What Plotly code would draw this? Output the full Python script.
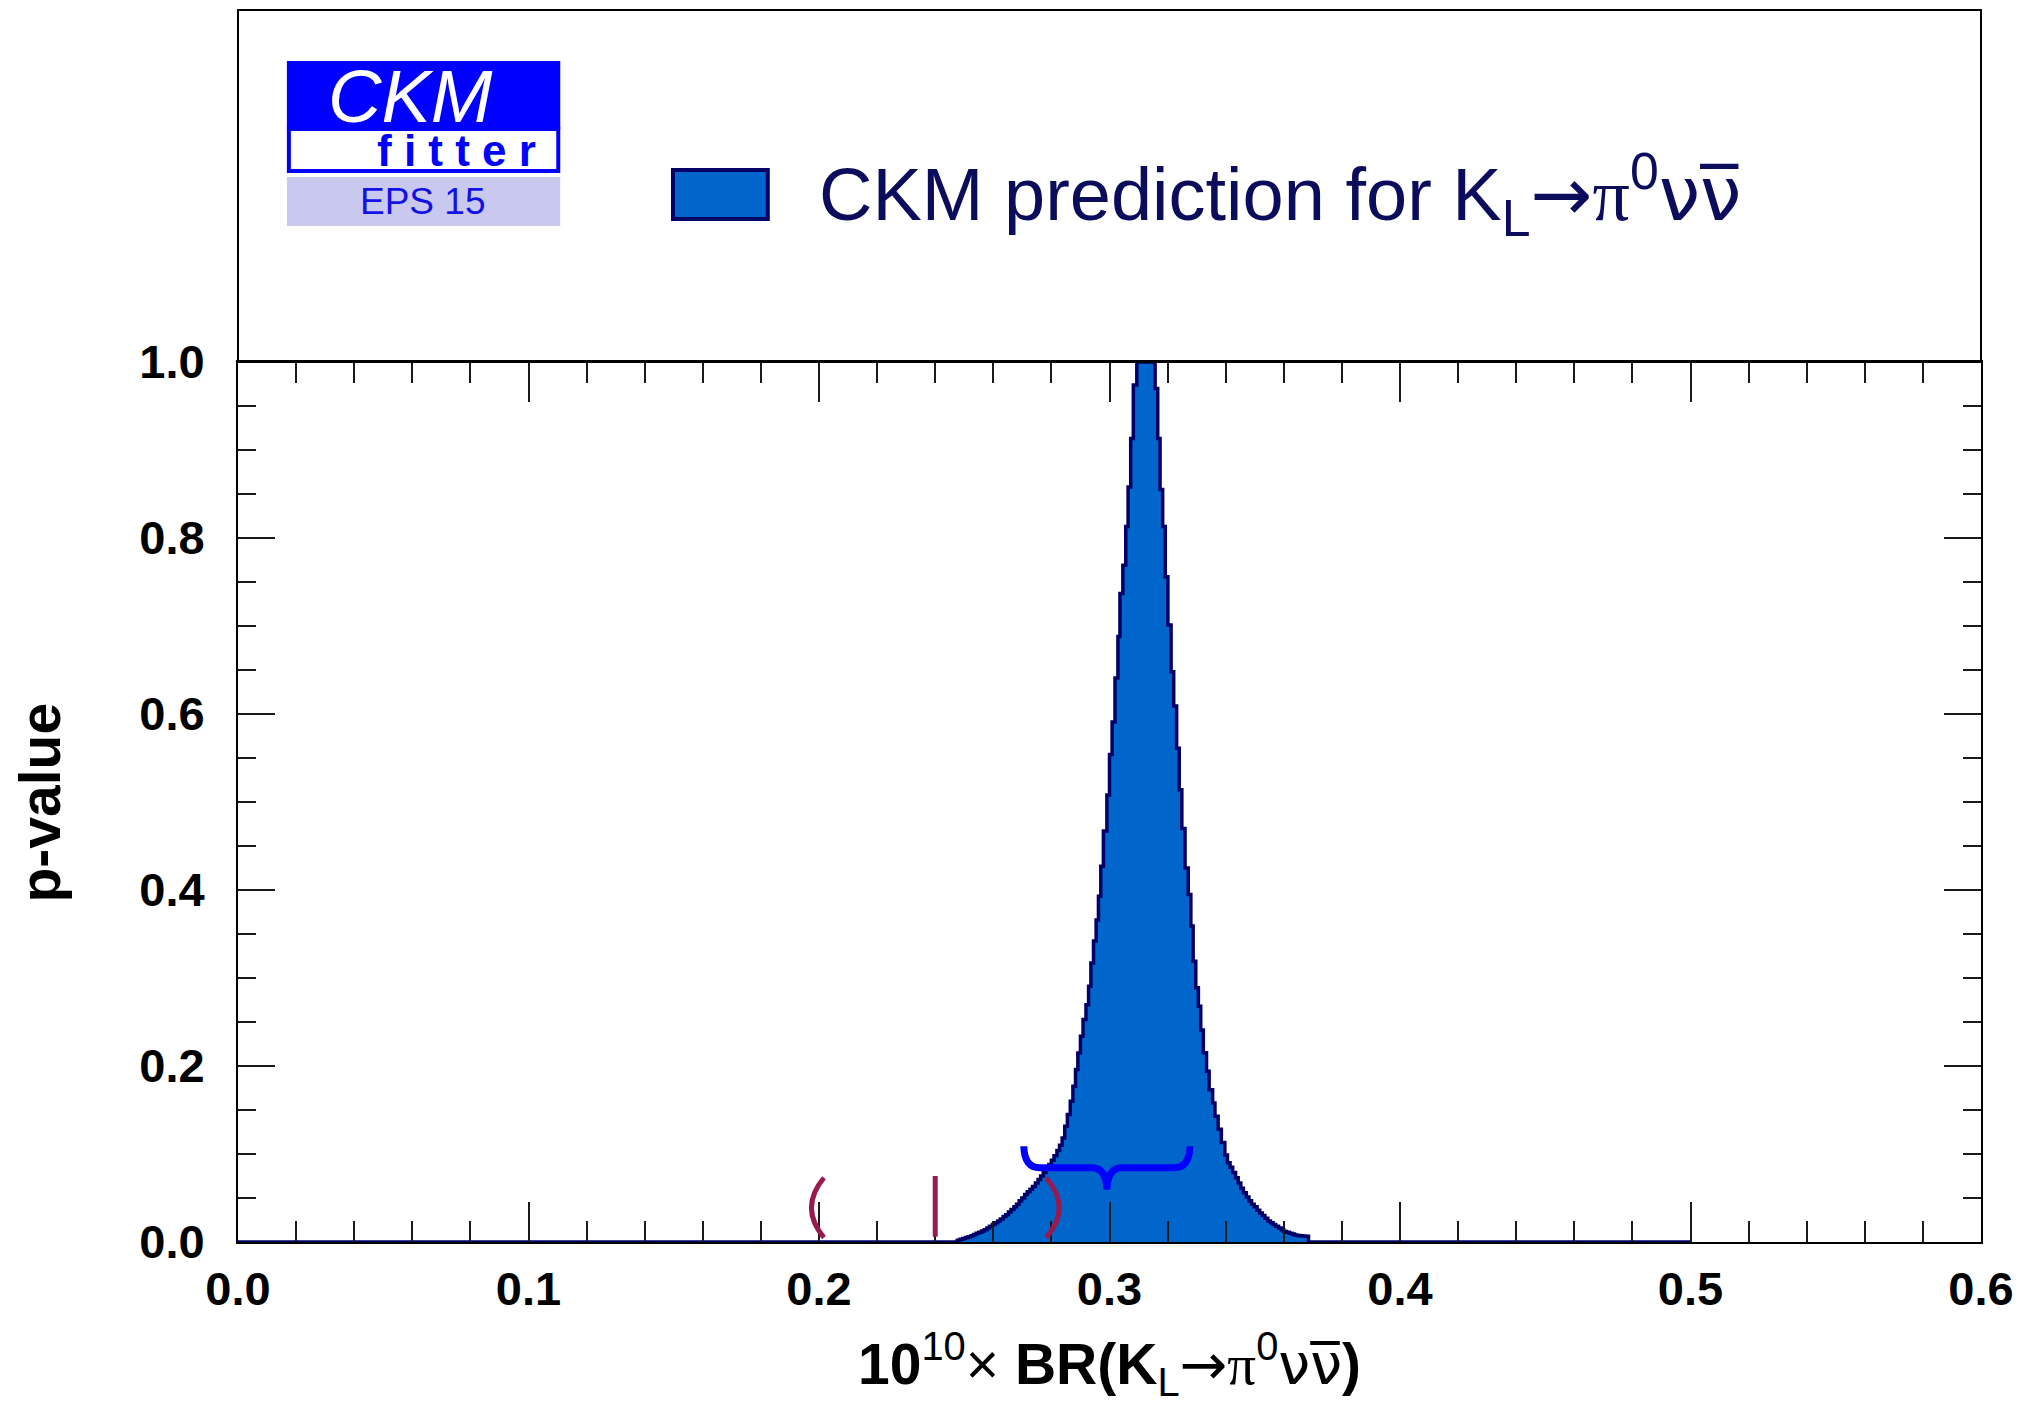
import plotly.graph_objects as go

# ---- p-value profile of 10^10 x BR(K_L -> pi0 nu nubar), binned ----
# left edge of each bin and the p-value of that bin
bin_lo = [0.0, 0.2476, 0.2486, 0.2495, 0.2504, 0.2513, 0.2523, 0.2532, 0.2541, 0.2550,
          0.2560, 0.2569, 0.2578, 0.2587, 0.2597, 0.2606, 0.2615, 0.2624, 0.2634, 0.2643,
          0.2652, 0.2661, 0.2671, 0.2680, 0.2689, 0.2698, 0.2708, 0.2717, 0.2726, 0.2735,
          0.2745, 0.2754, 0.2763, 0.2772, 0.2782, 0.2791, 0.2800, 0.2809, 0.2819, 0.2828,
          0.2837, 0.2846, 0.2855, 0.2865, 0.2874, 0.2883, 0.2891, 0.2900, 0.2909, 0.2919,
          0.2928, 0.2936, 0.2945, 0.2954, 0.2962, 0.2970, 0.2979, 0.2991, 0.3000, 0.3009,
          0.3019, 0.3029, 0.3036, 0.3046, 0.3056, 0.3064, 0.3073, 0.3082, 0.3094,
          0.3157, 0.3166, 0.3174, 0.3183, 0.3192, 0.3201, 0.3212, 0.3221, 0.3231, 0.3240,
          0.3249, 0.3260, 0.3271, 0.3280, 0.3288, 0.3297, 0.3306, 0.3314, 0.3323, 0.3334,
          0.3343, 0.3355, 0.3363, 0.3374, 0.3385, 0.3397, 0.3406, 0.3415, 0.3424, 0.3434,
          0.3443, 0.3452, 0.3461, 0.3471, 0.3480, 0.3489, 0.3498, 0.3508, 0.3517, 0.3526,
          0.3535, 0.3545, 0.3554, 0.3563, 0.3572, 0.3582, 0.3591, 0.3600, 0.3609, 0.3619,
          0.3628, 0.3637, 0.3646, 0.3656, 0.3665, 0.3674, 0.3685]
p_value = [0.0, 0.002, 0.003, 0.004, 0.005, 0.006, 0.007, 0.0085, 0.010, 0.0112,
           0.0125, 0.014, 0.016, 0.018, 0.020, 0.022, 0.024, 0.026, 0.029, 0.031,
           0.034, 0.037, 0.040, 0.043, 0.047, 0.050, 0.054, 0.057, 0.060, 0.063,
           0.067, 0.071, 0.075, 0.079, 0.083, 0.088, 0.093, 0.098, 0.104, 0.110,
           0.1183, 0.1315, 0.1448, 0.160, 0.177, 0.1959, 0.2149, 0.2337, 0.2527, 0.2697,
           0.2905, 0.317, 0.342, 0.366, 0.393, 0.427, 0.467, 0.508, 0.554, 0.591,
           0.641, 0.688, 0.737, 0.769, 0.813, 0.858, 0.913, 0.974, 1.0,
           0.970, 0.913, 0.855, 0.813, 0.756, 0.701, 0.648, 0.609, 0.561, 0.514,
           0.470, 0.425, 0.395, 0.359, 0.319, 0.289, 0.268, 0.241, 0.215, 0.194,
           0.173, 0.158, 0.143, 0.128, 0.113, 0.099, 0.090, 0.085, 0.079, 0.073,
           0.067, 0.061, 0.056, 0.051, 0.047, 0.043, 0.040, 0.036, 0.033, 0.030,
           0.027, 0.024, 0.022, 0.020, 0.018, 0.016, 0.014, 0.012, 0.011, 0.010,
           0.009, 0.008, 0.0075, 0.007, 0.0068, 0.0065, 0.0]
hist_end = 0.5          # upper edge of the histogram range

if len(bin_lo) != len(p_value):
    raise ValueError("bin edges and p-values differ in length")

x_ticks = [0.0, 0.1, 0.2, 0.3, 0.4, 0.5, 0.6]
y_ticks = [0.0, 0.2, 0.4, 0.6, 0.8, 1.0]

# parenthesised interval and central value, brace over the prediction
interval_lo, interval_mid, interval_hi = 0.2017, 0.2400, 0.2782
brace_lo, brace_mid, brace_hi = 0.2705, 0.2991, 0.3277

FILL = "#0066cc"
EDGE = "#000066"
MAROON = "#981b50"
LOGO_BLUE = "#0000ff"

W, H = 2026, 1416
L, R, T, B = 238, 1985, 362, 1242          # plot frame in pixels


def px(X):
    return (X - L) / (R - L)


def py(Y):
    return (B - Y) / (B - T)


fig = go.Figure()
fig.add_trace(go.Scatter(
    x=bin_lo + [hist_end], y=p_value + [0.0],
    mode="lines", line=dict(shape="hv", color=EDGE, width=3.5),
    fill="tozeroy", fillcolor=FILL, hoverinfo="skip", showlegend=False))

axis_common = dict(showline=True, linewidth=2, linecolor="black", mirror="ticks",
                   ticks="inside", tickwidth=2, tickcolor="#1a1a1a",
                   showgrid=False, zeroline=False, tickformat=".1f",
                   tickfont=dict(family="Liberation Sans", size=47, color="black",
                                 weight="bold"))

fig.update_xaxes(range=[0, 0.6], tickvals=x_ticks, ticklen=40,
                 minor=dict(dtick=0.02, ticklen=21, tickwidth=2, ticks="inside",
                            tickcolor="#1a1a1a"),
                 ticklabelstandoff=5, **axis_common)
fig.update_yaxes(range=[0, 1], tickvals=y_ticks, ticklen=37,
                 minor=dict(dtick=0.05, ticklen=18, tickwidth=2, ticks="inside",
                            tickcolor="#1a1a1a"),
                 ticklabelstandoff=22, **axis_common)

shapes = []
# upper box of the frame holding logo and legend
shapes.append(dict(type="rect", xref="paper", yref="paper",
                   x0=0, x1=1, y0=1, y1=py(10),
                   line=dict(color="black", width=2), fillcolor="rgba(0,0,0,0)"))
# logo blocks
shapes.append(dict(type="rect", xref="paper", yref="paper",
                   x0=px(287), x1=px(561), y0=py(129), y1=py(61),
                   line=dict(width=0), fillcolor=LOGO_BLUE))
shapes.append(dict(type="rect", xref="paper", yref="paper",
                   x0=px(289), x1=px(559), y0=py(171), y1=py(129),
                   line=dict(color=LOGO_BLUE, width=4), fillcolor="white"))
shapes.append(dict(type="rect", xref="paper", yref="paper",
                   x0=px(287), x1=px(561), y0=py(226), y1=py(177),
                   line=dict(width=0), fillcolor="#c9c9f0"))
# legend swatch
shapes.append(dict(type="rect", xref="paper", yref="paper",
                   x0=px(674), x1=px(769), y0=py(219), y1=py(170),
                   line=dict(color=EDGE, width=4), fillcolor=FILL))

# interval markers: "(", "|", ")"
p_top, p_bot = 0.073, 0.005
shapes.append(dict(type="path", xref="x", yref="y",
                   path=f"M {interval_lo},{p_top} Q {interval_lo - 0.0086},{(p_top + p_bot) / 2} {interval_lo},{p_bot}",
                   line=dict(color=MAROON, width=5)))
shapes.append(dict(type="line", xref="x", yref="y",
                   x0=interval_mid, x1=interval_mid, y0=0.006, y1=0.075,
                   line=dict(color=MAROON, width=5)))
shapes.append(dict(type="path", xref="x", yref="y",
                   path=f"M {interval_hi},{p_top} Q {interval_hi + 0.0089},{(p_top + p_bot) / 2} {interval_hi},{p_bot}",
                   line=dict(color=MAROON, width=5)))

# horizontal curly brace
b_tip, b_bar, b_pt = 0.1088, 0.0843, 0.0596
brace = (f"M {brace_lo},{b_tip} Q {brace_lo + 0.0002},{b_bar} {brace_lo + 0.0055},{b_bar} "
         f"L {brace_mid - 0.0051},{b_bar} Q {brace_mid - 0.0003},{b_bar} {brace_mid},{b_pt} "
         f"Q {brace_mid + 0.0003},{b_bar} {brace_mid + 0.0051},{b_bar} "
         f"L {brace_hi - 0.0055},{b_bar} Q {brace_hi - 0.0002},{b_bar} {brace_hi},{b_tip}")
shapes.append(dict(type="path", xref="x", yref="y", path=brace,
                   line=dict(color=LOGO_BLUE, width=7)))

ARROW = "<span style='font-family:DejaVu Sans'>→</span>"
PI = "<span style='font-family:Liberation Serif'>π</span>"
NUNU = "<span style='font-family:DejaVu Sans'>νν\u0305</span>"
decay = f"{ARROW}{PI}<sup>0</sup>{NUNU}"

ann = dict(xref="paper", yref="paper", showarrow=False,
           xanchor="center", yanchor="middle")
annotations = [
    # logo text
    dict(ann, x=px(411), y=py(96), height=64, text="<i>CKM</i>",
         font=dict(family="Liberation Sans", size=74, color="white")),
    dict(ann, x=px(457), y=py(150), height=40, text="<b>f i t t e r</b>",
         font=dict(family="Liberation Sans", size=44, color=LOGO_BLUE)),
    dict(ann, x=px(423), y=py(202), text="EPS 15",
         font=dict(family="Liberation Sans", size=37, color="#1212e6")),
    # legend entry
    dict(ann, x=px(818), y=py(194), xanchor="left",
         text=f"CKM prediction for K<sub>L</sub>{decay}",
         font=dict(family="Liberation Sans", size=74, color="#0c0c5c")),
    # axis titles
    dict(ann, x=0.5, y=py(1364),
         text=f"<b>10</b><sup>10</sup>× <b>BR(K</b><sub>L</sub>{decay}<b>)</b>",
         font=dict(family="Liberation Sans", size=57, color="black")),
    dict(ann, x=px(40), y=0.5, textangle=-90, text="<b>p-value</b>",
         font=dict(family="Liberation Sans", size=57, color="black")),
]

fig.update_layout(width=W, height=H, margin=dict(l=L, r=W - R, t=T, b=H - B),
                  paper_bgcolor="white", plot_bgcolor="white",
                  shapes=shapes, annotations=annotations, showlegend=False)

fig.write_html("out.html")
